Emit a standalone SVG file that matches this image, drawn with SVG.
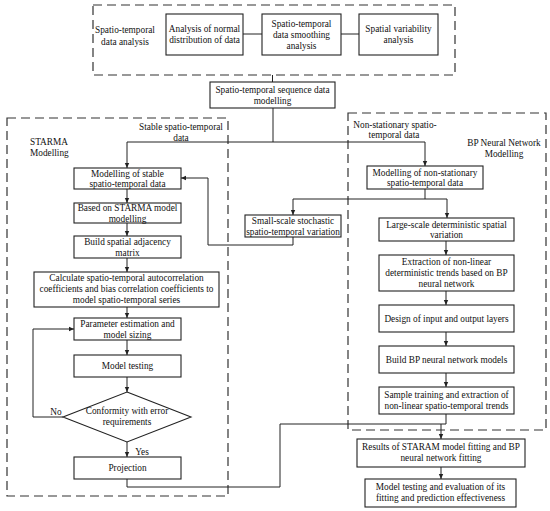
<svg xmlns="http://www.w3.org/2000/svg" width="550" height="511" viewBox="0 0 550 511" font-family="'Liberation Serif', 'Times New Roman', Times, serif">
<style>
.b{fill:#fff;stroke:#222;stroke-width:1.1}
.d{fill:none;stroke:#333;stroke-width:1.2;stroke-dasharray:9 5}
.c{fill:none;stroke:#222;stroke-width:1}
text{font-family:'Liberation Serif','Times New Roman',Times,serif;font-size:9.3px;fill:#111;text-anchor:middle}
</style>
<defs>
<marker id="a" markerWidth="6" markerHeight="6" refX="5" refY="3" orient="auto" markerUnits="userSpaceOnUse">
<path d="M0,0.8 L5,3 L0,5.2 Z" fill="#222"/>
</marker>
</defs>
<rect width="550" height="511" fill="#fff"/>
<g id="containers">
<rect class="d" x="93" y="5" width="362" height="70"/>
<rect class="d" x="7" y="118" width="221" height="378"/>
<rect class="d" x="348" y="113" width="198" height="317"/>
</g>
<g id="connectors">
<path class="c" d="M243,34 H262 M341,34 H359"/>
<path class="c" d="M272.5,75 V82"/>
<path class="c" d="M273,108 V142 M127,142 H425"/>
<path class="c" d="M127,142 V168" marker-end="url(#a)"/>
<path class="c" d="M425,142 V166" marker-end="url(#a)"/>
<path class="c" d="M425,189 V199 M293,199 H447"/>
<path class="c" d="M293,199 V215" marker-end="url(#a)"/>
<path class="c" d="M447,199 V218" marker-end="url(#a)"/>
<path class="c" d="M293,237 V245 H208 V178 H181" marker-end="url(#a)"/>
<path class="c" d="M127,189 V203" marker-end="url(#a)"/>
<path class="c" d="M127,223 V236" marker-end="url(#a)"/>
<path class="c" d="M127,258 V272" marker-end="url(#a)"/>
<path class="c" d="M127,307 V318" marker-end="url(#a)"/>
<path class="c" d="M127,340 V355" marker-end="url(#a)"/>
<path class="c" d="M127,377 V392" marker-end="url(#a)"/>
<path class="c" d="M127,442 V457" marker-end="url(#a)"/>
<path class="c" d="M63,417 H33 V329 H74" marker-end="url(#a)"/>
<path class="c" d="M127,479 V487 H280 V424 H446"/>
<path class="c" d="M446,241 V255" marker-end="url(#a)"/>
<path class="c" d="M446,291 V305" marker-end="url(#a)"/>
<path class="c" d="M446,332 V346" marker-end="url(#a)"/>
<path class="c" d="M446,373 V387" marker-end="url(#a)"/>
<path class="c" d="M446,414 V424"/>
<path class="c" d="M441,424 V439" marker-end="url(#a)"/>
<path class="c" d="M441,467 V479" marker-end="url(#a)"/>
</g>
<g id="labels">
<text x="125" y="33">Spatio-temporal</text>
<text x="125" y="45">data analysis</text>
<text x="181" y="130">Stable spatio-temporal</text>
<text x="181" y="141">data</text>
<text x="30" y="145" style="text-anchor:start">STARMA</text>
<text x="30" y="156" style="text-anchor:start">Modelling</text>
<text x="395" y="128">Non-stationary spatio-</text>
<text x="394" y="138">temporal data</text>
<text x="504" y="146">BP Neural Network</text>
<text x="504" y="157">Modelling</text>
<text x="56" y="415">No</text>
<text x="142" y="455">Yes</text>
</g>
<g id="n1"><rect class="b" x="166" y="14" width="77" height="41"/><text x="204.5" y="32.2">Analysis of normal</text><text x="204.5" y="43.2">distribution of data</text></g>
<g id="n2"><rect class="b" x="262" y="14" width="79" height="41"/><text x="301.5" y="26.7">Spatio-temporal</text><text x="301.5" y="37.7">data smoothing</text><text x="301.5" y="48.7">analysis</text></g>
<g id="n3"><rect class="b" x="359" y="14" width="79" height="41"/><text x="398.5" y="32.2">Spatial variability</text><text x="398.5" y="43.2">analysis</text></g>
<g id="n4"><rect class="b" x="210" y="82" width="125" height="26"/><text x="272.5" y="92.5">Spatio-temporal sequence data</text><text x="272.5" y="103.5">modelling</text></g>
<g id="n5"><rect class="b" x="74" y="168" width="107" height="21"/><text x="127.5" y="176.5">Modelling of stable</text><text x="127.5" y="187">spatio-temporal data</text></g>
<g id="n6"><rect class="b" x="74" y="203" width="107" height="20"/><text x="127.5" y="211">Based on STARMA model</text><text x="127.5" y="221.5">modelling</text></g>
<g id="n7"><rect class="b" x="74" y="236" width="107" height="22"/><text x="127.5" y="245">Build spatial adjacency</text><text x="127.5" y="255.5">matrix</text></g>
<g id="n8"><rect class="b" x="34" y="272" width="185" height="35"/><text x="126.5" y="281">Calculate spatio-temporal autocorrelation</text><text x="126.5" y="292">coefficients and bias correlation coefficients to</text><text x="126.5" y="303">model spatio-temporal series</text></g>
<g id="n9"><rect class="b" x="74" y="318" width="107" height="22"/><text x="127.5" y="327">Parameter estimation and</text><text x="127.5" y="337.5">model sizing</text></g>
<g id="n10"><rect class="b" x="74" y="355" width="107" height="22"/><text x="127.5" y="369">Model testing</text></g>
<g id="n11"><path class="b" d="M127,392 L191,417 L127,442 L63,417 Z"/><text x="127" y="414">Conformity with error</text><text x="127" y="425">requirements</text></g>
<g id="n12"><rect class="b" x="74" y="457" width="107" height="22"/><text x="127.5" y="471">Projection</text></g>
<g id="n13"><rect class="b" x="367" y="166" width="116" height="23"/><text x="425" y="175.5">Modelling of non-stationary</text><text x="425" y="186">spatio-temporal data</text></g>
<g id="n14"><rect class="b" x="245" y="215" width="96" height="22"/><text x="293" y="224">Small-scale stochastic</text><text x="293" y="234.5">spatio-temporal variation</text></g>
<g id="n15"><rect class="b" x="379" y="218" width="135" height="23"/><text x="446.5" y="227.5">Large-scale deterministic spatial</text><text x="446.5" y="238">variation</text></g>
<g id="n16"><rect class="b" x="379" y="255" width="135" height="36"/><text x="446.5" y="265">Extraction of non-linear</text><text x="446.5" y="276">deterministic trends based on BP</text><text x="446.5" y="287">neural network</text></g>
<g id="n17"><rect class="b" x="379" y="305" width="135" height="27"/><text x="446.5" y="321.5">Design of input and output layers</text></g>
<g id="n18"><rect class="b" x="379" y="346" width="135" height="27"/><text x="446.5" y="362.5">Build BP neural network models</text></g>
<g id="n19"><rect class="b" x="379" y="387" width="135" height="27"/><text x="446.5" y="398">Sample training and extraction of</text><text x="446.5" y="409">non-linear spatio-temporal trends</text></g>
<g id="n20"><rect class="b" x="357" y="439" width="168" height="28"/><text x="441" y="450">Results of STARAM model fitting and BP</text><text x="441" y="461">neural network fitting</text></g>
<g id="n21"><rect class="b" x="365" y="479" width="151" height="28"/><text x="440.5" y="490">Model testing and evaluation of its</text><text x="440.5" y="501">fitting and prediction effectiveness</text></g>
</svg>
